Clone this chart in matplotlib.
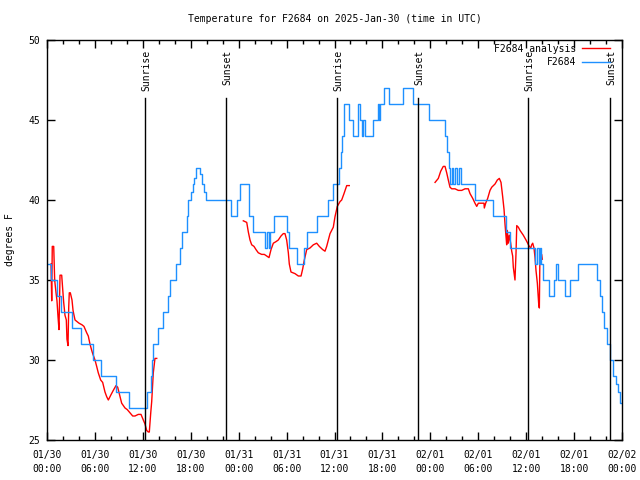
import matplotlib
matplotlib.use("Agg")
import matplotlib.pyplot as plt
from matplotlib.ticker import MultipleLocator

# hours since 2025-01-30 00:00 UTC
obs_hours = [0.0, 0.5, 1.25, 1.7, 3.1, 4.2, 5.8, 6.8, 8.7, 10.3, 12.55, 13.0, 13.15, 13.3,
             13.9, 14.5, 15.15, 15.4, 16.15, 16.65, 16.9, 17.5, 17.7, 18.0, 18.25, 18.45,
             18.65, 19.15, 19.35, 19.6, 19.9, 20.1, 23.1, 23.75, 24.15, 25.3, 25.8, 27.3,
             27.5, 27.75, 27.9, 28.45, 30.1, 30.35, 31.25, 32.2, 32.6, 33.85, 35.2, 35.85,
             36.55, 36.8, 37.0, 37.15, 37.25, 37.85, 38.35, 39.0, 39.2, 39.4, 39.6, 39.8,
             40.8, 41.4, 41.6, 41.7, 42.2, 42.85, 44.55, 45.8, 47.85, 49.85, 50.1, 50.35,
             50.45, 50.7, 50.9, 51.1, 51.3, 51.6, 51.9, 53.6, 55.8, 57.45, 58.0, 61.1, 61.35,
             61.6, 61.75, 61.85, 62.1, 62.8, 63.45, 63.7, 64.0, 64.85, 65.5, 66.5, 68.85,
             69.25, 69.5, 69.75, 70.15, 70.5, 70.85, 71.3, 71.45, 71.8, 72.0]
obs_temps = [36, 35, 34, 33, 32, 31, 30, 29, 28, 27, 28, 29, 30, 31,
             32, 33, 34, 35, 36, 37, 38, 39, 40, 40.5, 41, 41.4,
             42, 41.6, 41, 40.5, 40, 40, 39, 40, 41, 39, 38, 37,
             38, 37, 38, 39, 38, 37, 36, 37, 38, 39, 40, 41,
             42, 43, 44, 45, 46, 45, 44, 46, 45, 44, 45, 44,
             45, 46, 45, 46, 47, 46, 47, 46, 45, 44, 43, 42,
             41, 42, 41, 42, 41, 42, 41, 40, 39, 38, 37, 36, 37,
             36, 37, 36, 35, 34, 35, 36, 35, 34, 35, 36, 35,
             34, 33, 32, 31, 30, 29, 28.5, 28, 27.3, 27.3]

ana1_hours = [0.5, 0.59, 0.66, 0.84, 0.96, 1.13, 1.25, 1.38, 1.5, 1.63, 1.84, 1.97, 2.09,
              2.25, 2.42, 2.5, 2.63, 2.72, 2.79, 2.92, 3.13, 3.26, 3.38, 3.51, 3.76, 4.01,
              4.38, 4.63, 4.97, 5.17, 5.38, 5.6, 5.72, 6.01, 6.22, 6.42, 6.72, 6.97, 7.26,
              7.48, 7.68, 7.98, 8.3, 8.64, 8.85, 9.05, 9.35, 9.77, 10.05, 10.39, 10.73,
              11.02, 11.43, 11.77, 12.06, 12.27, 12.48, 12.68, 12.81, 12.99, 13.11, 13.31,
              13.52, 13.74]
ana1_temps = [36.0, 33.7, 37.1, 37.1, 35.0, 34.2, 33.7, 32.7, 31.9, 35.3, 35.3, 34.4, 33.6,
              32.8, 32.5, 31.3, 30.9, 33.3, 34.2, 34.2, 33.75, 33.1, 32.8, 32.5, 32.4, 32.3,
              32.2, 32.1, 31.7, 31.5, 31.0, 30.6, 30.4, 30.0, 29.6, 29.2, 28.75, 28.6, 28.0,
              27.7, 27.5, 27.8, 28.1, 28.4, 28.3, 27.9, 27.3, 27.0, 26.9, 26.7, 26.5,
              26.5, 26.6, 26.6, 26.25, 26.0, 25.6, 25.5, 25.5, 26.7, 27.4, 29.2,
              30.1, 30.1]

ana2_hours = [24.58, 25.01, 25.21, 25.42, 25.63, 25.92, 26.17, 26.46, 26.88, 27.21, 27.51,
              27.8, 28.05, 28.34, 28.68, 28.96, 29.3, 29.59, 29.8, 30.01, 30.22, 30.34,
              30.55, 31.05, 31.47, 31.81, 32.02, 32.22, 32.52, 32.93, 33.35, 33.77, 34.1,
              34.52, 34.81, 35.02, 35.44, 35.85, 36.06, 36.35, 36.69, 36.9, 37.19, 37.53,
              37.85]
ana2_temps = [38.7, 38.6, 38.0, 37.5, 37.2, 37.1, 36.9, 36.7, 36.6, 36.6, 36.5,
              36.4, 36.9, 37.3, 37.4, 37.5, 37.75, 37.9, 37.9, 37.5, 36.7, 36.0,
              35.5, 35.4, 35.25, 35.25, 35.7, 36.25, 36.9, 37.0, 37.2, 37.3, 37.1,
              36.9, 36.8, 37.1, 37.9, 38.3, 38.95, 39.6, 39.9, 40.0, 40.4, 40.9,
              40.9]

ana3_hours = [48.59, 49.0, 49.3, 49.62, 49.84, 50.05, 50.25, 50.46, 50.68, 51.09, 51.5,
              51.93, 52.34, 52.76, 52.97, 53.31, 53.59, 53.81, 54.01, 54.43, 54.72, 54.76,
              54.93, 55.18, 55.47, 55.69, 56.1, 56.39, 56.64, 56.85, 57.06, 57.23, 57.35,
              57.48, 57.56, 57.64, 57.76, 57.89, 58.06, 58.19, 58.31, 58.39, 58.6, 58.73,
              58.82, 59.02, 59.23, 59.64, 59.98, 60.19, 60.39, 60.57, 60.69, 60.82, 60.98,
              61.11, 61.23, 61.4, 61.57, 61.65, 61.73, 61.82, 61.94, 62.02]
ana3_temps = [41.1, 41.35, 41.8, 42.1, 42.1, 41.7, 41.25, 40.8, 40.7, 40.7, 40.6,
              40.6, 40.7, 40.7, 40.4, 40.1, 39.8, 39.6, 39.8, 39.8, 39.8, 39.5,
              39.8, 40.1, 40.6, 40.8, 41.0, 41.25, 41.35, 41.1, 40.2, 39.4, 38.5,
              37.7, 37.2, 38.1, 37.3, 37.8, 37.3, 36.8, 36.5, 35.8, 35.0, 36.7,
              38.4, 38.3, 38.1, 37.8, 37.5, 37.3, 37.1, 37.0, 37.2, 37.3, 37.0,
              36.4, 35.6, 34.8, 33.5, 33.25, 36.9, 36.4, 36.6, 36.3]

sun_hours = [12.27, 22.41, 36.31, 46.46, 60.23, 70.5]
sun_labels = ["Sunrise", "Sunset", "Sunrise", "Sunset", "Sunrise", "Sunset"]

tick_hours = list(range(0, 73, 6))
tick_labels = ["01/30\n00:00", "01/30\n06:00", "01/30\n12:00", "01/30\n18:00",
               "01/31\n00:00", "01/31\n06:00", "01/31\n12:00", "01/31\n18:00",
               "02/01\n00:00", "02/01\n06:00", "02/01\n12:00", "02/01\n18:00",
               "02/02\n00:00"]

plt.rcParams['font.family'] = 'DejaVu Sans Mono'
plt.rcParams['font.size'] = 7

fig = plt.figure(figsize=(6.4, 4.8), dpi=100)
ax = fig.add_axes([47 / 640, 40 / 480, 575 / 640, 400 / 480])

red = '#ff0000'
blue = '#1e90ff'
ax.plot(ana1_hours, ana1_temps, color=red, lw=1, label='F2684 analysis')
ax.plot(ana2_hours, ana2_temps, color=red, lw=1)
ax.plot(ana3_hours, ana3_temps, color=red, lw=1)
ax.plot(obs_hours, obs_temps, color=blue, lw=1, drawstyle='steps-post', label='F2684')

for h, lab in zip(sun_hours, sun_labels):
    ax.plot([h, h], [25, 46.4], color='black', lw=1)
    ax.text(h + 0.2, 49.4, lab, rotation=90, ha='center', va='top', fontsize=7)

ax.set_xlim(0, 72)
ax.set_ylim(25, 50)
ax.set_xticks(tick_hours)
ax.set_xticklabels(tick_labels, linespacing=1.5)
ax.xaxis.set_minor_locator(MultipleLocator(2))
ax.set_yticks([25, 30, 35, 40, 45, 50])
ax.tick_params(direction='in', top=True, right=True, length=6, width=1, pad=5)
ax.tick_params(axis='x', pad=7)
ax.tick_params(which='minor', direction='in', top=True, right=False, length=3, width=1)
for s in ax.spines.values():
    s.set_linewidth(1)

ax.legend(loc='upper right', frameon=False, markerfirst=False, handlelength=2.9,
          handletextpad=0.6, borderaxespad=0.8, labelspacing=0.35, fontsize=7,
          bbox_to_anchor=(1.0, 1.02))

fig.text(335 / 640, 1 - 19 / 480, 'Temperature for F2684 on 2025-Jan-30 (time in UTC)',
         ha='center', va='center', fontsize=7)
fig.text(10 / 640, 0.5, 'degrees F', rotation=90, ha='center', va='center', fontsize=7)

fig.savefig('out.png', dpi=100)
